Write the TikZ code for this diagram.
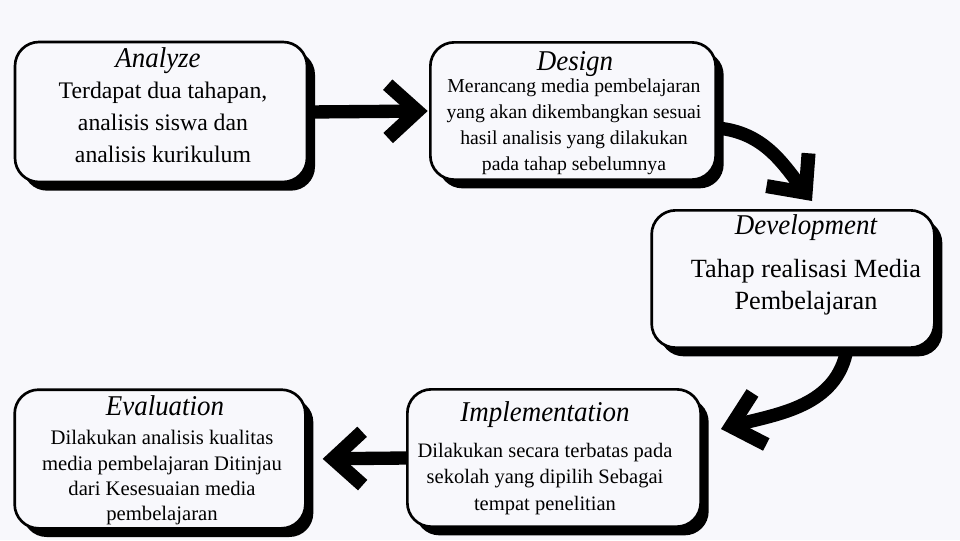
\documentclass[tikz,border=0pt]{standalone}
\usepackage{fontspec}
\setmainfont{Liberation Serif}
\newfontfamily\titleserif[FakeStretch=0.94]{Liberation Serif}
\usetikzlibrary{arrows.meta,shadows,calc}

\definecolor{paper}{RGB}{248,248,252}

\tikzset{
  stagebox/.style={draw, line width=2pt, rounded corners=18pt, fill=paper,
    drop shadow={shadow xshift=6pt, shadow yshift=-6.5pt, fill=black, opacity=1}},
  stagetitle/.style={font=\titleserif\itshape\fontsize{21.5}{25}\selectfont},
  brush/.style={line width=10pt, -{Straight Barb[length=22pt, width=40pt, line width=10.5pt]}},
}

\begin{document}
\begin{tikzpicture}[x=0.75pt,y=0.75pt,yscale=-1,xscale=1]
%background
\fill [paper] (0,0) rectangle (960,540);
\useasboundingbox (0,0) rectangle (960,540);

%Shape: Rounded boxes
\node (analyze) [stagebox, minimum width=219pt, minimum height=105pt] at (161,112) {};
\node (design) [stagebox, minimum width=214pt, minimum height=103pt] at (573,111) {};
\node (development) [stagebox, minimum width=212pt, minimum height=103pt] at (793,279) {};
\node (implementation) [stagebox, minimum width=220pt, minimum height=103pt] at (554,458) {};
\node (evaluation) [stagebox, minimum width=218pt, minimum height=104pt] at (160,459) {};

% Text Node
\node (analyzetitle) [stagetitle] at (158,61) {Analyze};
\node (analyzetext) [align=center, font=\fontsize{17.8}{24}\selectfont] at (163,122) {Terdapat dua tahapan,\\ analisis siswa dan\\ analisis kurikulum};
% Text Node
\node (designtitle) [stagetitle] at (575,64) {Design};
\node (designtext) [align=center, font=\fontsize{14.8}{19.5}\selectfont] at (574,127) {Merancang media pembelajaran\\ yang akan dikembangkan sesuai\\ hasil analisis yang dilakukan\\ pada tahap sebelumnya};
% Text Node
\node (developmenttitle) [stagetitle] at (806,228) {Development};
\node (developmenttext) [align=center, font=\fontsize{19.7}{24}\selectfont] at (806,287) {Tahap realisasi Media\\ Pembelajaran};
% Text Node
\node (implementationtitle) [stagetitle] at (545,415) {Implementation};
\node (implementationtext) [align=center, font=\fontsize{15.4}{19.9}\selectfont] at (545,479) {Dilakukan secara terbatas pada\\ sekolah yang dipilih Sebagai\\ tempat penelitian};
% Text Node
\node (evaluationtitle) [stagetitle] at (165,406) {Evaluation};
\node (evaluationtext) [align=center, font=\fontsize{15.5}{19}\selectfont] at (162,478) {Dilakukan analisis kualitas\\ media pembelajaran Ditinjau\\ dari Kesesuaian media\\ pembelajaran};

%Arrows
\draw [brush, shorten >=1pt] (analyze.east) -- (design.west);
\draw [brush] ($(design.east)+(0,17)$) to[out=5, in=-128] ($(development.north)+(19,-8)$);
\draw [brush] ($(development.south)+(54,0)$) to[out=100, in=-15] ($(implementation.east)+(19,-29)$);
\draw [brush, shorten >=12pt] (implementation.west) -- (evaluation.east);

\end{tikzpicture}
\end{document}
